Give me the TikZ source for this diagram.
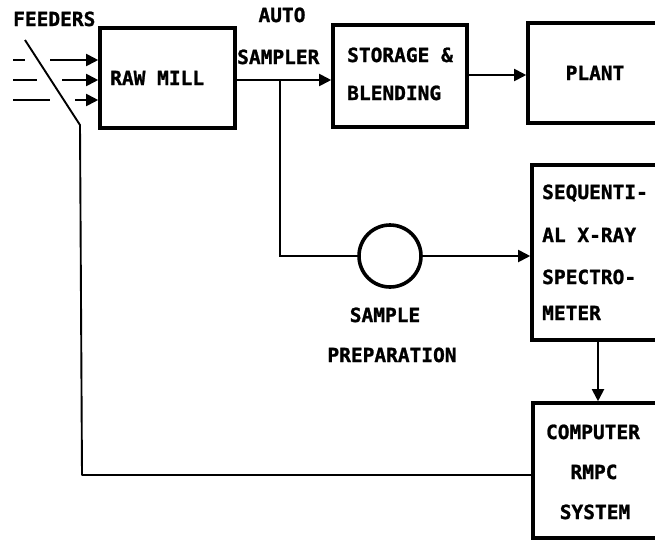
\documentclass[tikz,border=0pt]{standalone}
\usepackage{fontspec}
\setmonofont{DejaVu Sans Mono}[BoldFeatures={FakeBold=1.2}]
\usetikzlibrary{arrows.meta}
\begin{document}
\begin{tikzpicture}[x=1pt,y=-1pt,
  box/.style={draw,line width=3.6pt,rectangle,inner sep=0pt},
  lbl/.style={inner sep=0pt,font=\fontsize{19.5}{20}\ttfamily\bfseries,text height=14pt,text depth=0pt},
  conn/.style={line width=1.9pt},
  arr/.style={conn,-{Triangle[length=12pt,width=12pt]}},
  ]
\useasboundingbox (0,0) rectangle (655,542);
\clip (0,0) rectangle (655,542);
% boxes
\node[box,minimum width=135pt,minimum height=100pt] (raw) at (167.5,78) {};
\node[box,minimum width=134pt,minimum height=102pt] (stor) at (400,76) {};
\node[box,minimum width=150pt,minimum height=100pt] (plant) at (603,73) {};
\node[box,minimum width=158pt,minimum height=175pt] (spec) at (611,252.5) {};
\node[box,minimum width=157pt,minimum height=135pt] (comp) at (611.5,470.5) {};
\node[draw,circle,line width=3.6pt,minimum size=62pt,inner sep=0pt] (circ) at (390,256) {};
% texts
\node[lbl,anchor=west] (tfeed) at (13,19) {FEEDERS};
\node[lbl] (tauto) at (282,15) {AUTO};
\node[lbl,anchor=west] (tsamp) at (237,57) {SAMPLER};
\node[lbl,anchor=west] (traw) at (110,78) {RAW MILL};
\node[lbl,anchor=west] (ts1) at (347,55) {STORAGE \&};
\node[lbl,anchor=west] (ts2) at (347,93) {BLENDING};
\node[lbl] (tplant) at (595,73) {PLANT};
\node[lbl,anchor=west] (tq1) at (542,192) {SEQUENTI-};
\node[lbl,anchor=west] (tq2) at (542,235) {AL X-RAY};
\node[lbl,anchor=west] (tq3) at (542,277) {SPECTRO-};
\node[lbl,anchor=west] (tq4) at (542,313) {METER};
\node[lbl] (tc1) at (593,432) {COMPUTER};
\node[lbl] (tc2) at (594,472) {RMPC};
\node[lbl] (tc3) at (595,512) {SYSTEM};
\node[lbl] (tp1) at (385,315) {SAMPLE};
\node[lbl] (tp2) at (392,355) {PREPARATION};
% feeders
\coordinate (a1) at (13,60); \coordinate (b1) at (25,60); \coordinate (c1) at (50,60);
\coordinate (a2) at (13,80); \coordinate (b2) at (37,80); \coordinate (c2) at (62,80);
\coordinate (a3) at (13,100); \coordinate (b3) at (50,100); \coordinate (c3) at (75,100);
\draw[conn] (a1) -- (b1);
\draw[conn] (a2) -- (b2);
\draw[conn] (a3) -- (b3);
\draw[arr] (c1) -- (c1 -| raw.west);
\draw[arr] (c2) -- (c2 -| raw.west);
\draw[arr] (c3) -- (c3 -| raw.west);
% feeder gate and feedback line
\coordinate (f1) at (25,40);
\coordinate (f2) at (80,125);
\coordinate (f3) at (82,475);
\draw[conn,line join=round] (f1) -- (f2) -- (f3) -- (f3 -| comp.west);
% main flow
\coordinate (j) at (280,80);
\draw[arr] (raw.east |- j) -- (stor.west |- j);
\draw[conn] (j) |- (circ.west);
\draw[arr] (circ.east) -- (circ.east -| spec.west);
\coordinate (sp) at (0,75);
\draw[arr] (stor.east |- sp) -- (plant.west |- sp);
\coordinate (d) at (598,0);
\draw[arr] (spec.south -| d) -- (comp.north -| d);
\end{tikzpicture}
\end{document}
